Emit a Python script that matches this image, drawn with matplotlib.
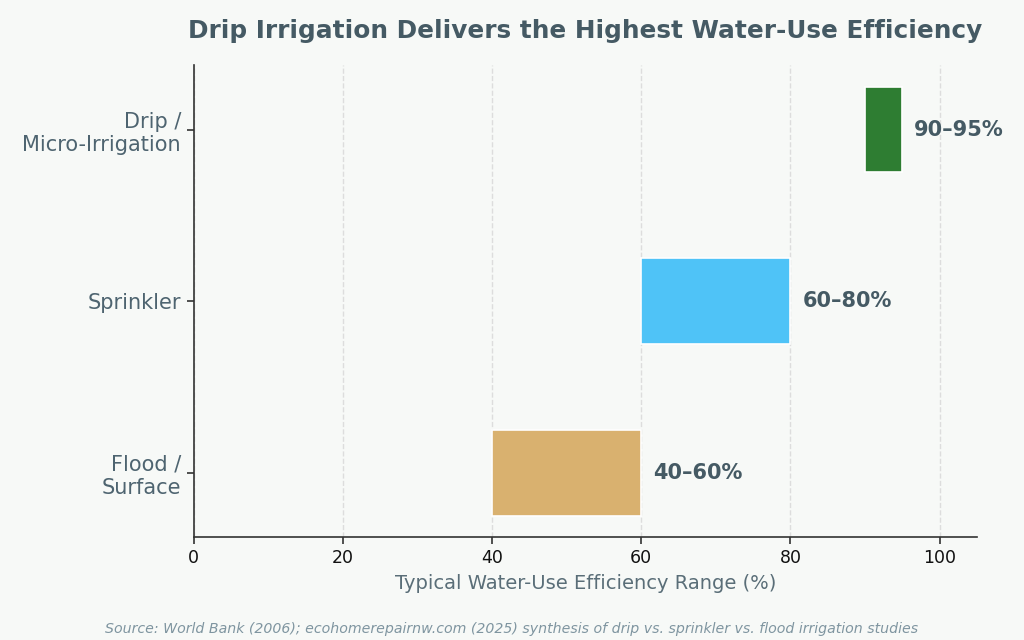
import matplotlib.pyplot as plt

plt.rcParams['font.family'] = ['DejaVu Sans']

# Data: efficiency ranges (%) per irrigation method
methods = ['Flood /\nSurface', 'Sprinkler', 'Drip /\nMicro-Irrigation']
low = [40, 60, 90]
high = [60, 80, 95]
range_labels = ['40–60%', '60–80%', '90–95%']
colors = ['#d9b16f', '#4fc3f7', '#2e7d32']

bg = '#f7f9f7'
text_dark = '#455a64'

fig = plt.figure(figsize=(10.24, 6.4), dpi=100, facecolor=bg)
ax = fig.add_axes([0.189, 0.161, 0.765, 0.737])
ax.set_facecolor(bg)

widths = [h - l for l, h in zip(low, high)]
ypos = list(range(len(methods)))
ax.barh(ypos, widths, left=low, height=0.5, color=colors,
        edgecolor='white', linewidth=1.2, zorder=3)

for y, h, lab in zip(ypos, high, range_labels):
    ax.text(h + 1.6, y, lab, va='center', ha='left', fontsize=15,
            fontweight='bold', color=text_dark)

ax.set_yticks(ypos)
ax.set_yticklabels(methods, fontsize=15)
ax.set_xlim(0, 105)
ax.set_xticks([0, 20, 40, 60, 80, 100])
ax.tick_params(axis='x', labelsize=12.5, colors='#333333', labelcolor='#111111',
               length=5, width=1.2)
ax.tick_params(axis='y', colors='#333333', labelcolor='#4e6470',
               length=5, width=1.2, pad=4)

ax.grid(axis='x', linestyle='--', color='#dddddd', linewidth=1, zorder=0)
ax.set_axisbelow(True)
for side in ['top', 'right']:
    ax.spines[side].set_visible(False)
for side in ['left', 'bottom']:
    ax.spines[side].set_color('#333333')
    ax.spines[side].set_linewidth(1.2)

ax.set_xlabel('Typical Water-Use Efficiency Range (%)', fontsize=14,
              color='#5a6e78', labelpad=5)
ax.set_title('Drip Irrigation Delivers the Highest Water-Use Efficiency',
             fontsize=17.8, fontweight='bold', color=text_dark, pad=20)

fig.text(0.5, 0.007, 'Source: World Bank (2006); ecohomerepairnw.com (2025) synthesis of '
         'drip vs. sprinkler vs. flood irrigation studies',
         ha='center', va='bottom', fontsize=10.2, style='italic', color='#7f95a0')

fig.savefig('out.png', dpi=100, facecolor=bg)
